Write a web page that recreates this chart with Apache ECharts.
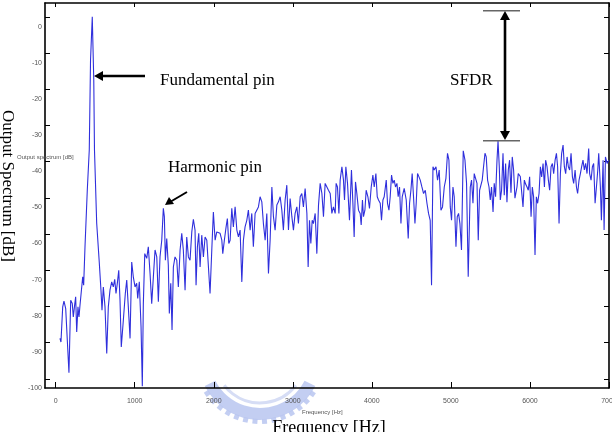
<!DOCTYPE html>
<html>
<head>
<meta charset="utf-8">
<script src="https://cdn.jsdelivr.net/npm/echarts@6/dist/echarts.min.js"></script>
<style>
  html, body { margin: 0; padding: 0; background: #fff; }
  #container { width: 612px; height: 432px; }
</style>
</head>
<body>
<div id="container"></div>
<script>
// frequency (Hz) and output spectrum (dB)
var freq = [54,67,89,105,127,147,168,190,210,223,241,253,266,282,295,308,320,342,354,371,400,425,441,463,482,491,
  519,552,573,586,603,624,646,666,687,709,729,747,763,780,798,814,830,856,881,899,919,941,962,982,1004,1025,1038,1058,1080,1096,
  1109,1127,1152,1172,1194,1215,1236,1257,1279,1299,1320,1342,1362,1375,1388,1405,1425,1438,1456,1472,1489,1510,1532,1552,1574,1595,
  1615,1637,1658,1679,1700,1722,1742,1763,1776,1793,1810,1827,1848,1869,1890,1912,1932,1953,1975,1995,2017,2038,2058,2080,2102,2114,
  2134,2156,2172,2190,2207,2228,2248,2270,2292,2312,2333,2355,2375,2396,2418,2438,2460,2481,2501,2523,2545,2565,2586,2608,2628,2650,
  2671,2692,2713,2735,2755,2776,2798,2818,2840,2861,2881,2903,2924,2945,2966,2988,3008,3029,3051,3071,3093,3114,3134,3156,3178,3194,
  3211,3228,3245,3261,3283,3304,3325,3346,3368,3388,3409,3431,3451,3473,3494,3514,3536,3548,3565,3583,3599,3621,3641,3654,3671,3692,
  3717,3742,3760,3776,3793,3810,3831,3852,3865,3881,3894,3912,3928,3950,3970,3992,4013,4030,4051,4068,4084,4106,4122,4140,4156,4182,
  4198,4216,4232,4249,4266,4283,4299,4317,4333,4350,4368,4384,4409,4435,4460,4477,4494,4510,4527,4545,4561,4578,4596,4612,4633,4654,
  4676,4697,4717,4738,4755,4773,4789,4811,4831,4852,4874,4894,4916,4937,4957,4975,4992,5008,5026,5042,5064,5080,5097,5114,5134,5156,
  5178,5198,5219,5245,5261,5279,5295,5312,5330,5346,5363,5381,5396,5413,5431,5447,5464,5482,5498,5514,5533,5548,5565,5583,5596,5612,
  5625,5641,5659,5675,5692,5709,5726,5742,5760,5776,5793,5810,5836,5852,5878,5899,5912,5929,5945,5963,5979,5996,6014,6030,6046,6064,
  6081,6097,6115,6132,6148,6166,6183,6198,6216,6233,6249,6267,6284,6300,6318,6335,6350,6368,6385,6401,6419,6435,6452,6470,6486,6502,
  6520,6537,6553,6571,6588,6603,6621,6638,6654,6671,6688,6705,6722,6743,6755,6773,6790,6806,6824,6841,6858,6870,6891,6904,6925,6938,
  6955,6976,6997];
var level = [-88.8,-89.8,-80.1,-78.5,-80.6,-80.6,-98.3,-78.3,-79.2,-82.9,-79.4,-77.3,-87.0,-80.1,-82.9,-79.6,-79.2,-71.8,-74.1,-63.5,-47.9,-36.8,-12.0,0,-17.5,-36.8,
  -57.0,-68.0,-75.5,-81.0,-74.6,-80.1,-93.0,-80.1,-75.5,-73.2,-74.6,-72.5,-76.4,-73.6,-70.0,-78.3,-91.2,-83.8,-76.4,-72.7,-80.1,-88.8,-67.7,-71.8,-74.6,-73.6,-77.8,-73.2,-85.6,-102,
  -79.2,-65.4,-66.7,-63.5,-70.9,-79.2,-71.8,-64.4,-66.3,-78.7,-66.3,-61.7,-52.9,-55.2,-67.2,-61.2,-68.6,-81.9,-73.6,-86.5,-69.1,-66.3,-67.2,-74.6,-64.4,-59.8,
  -64.4,-75.5,-60.8,-66.3,-67.2,-59.4,-55.9,-58.9,-74.1,-63.5,-59.8,-69.1,-60.3,-66.3,-60.8,-61.7,-61.2,-76.4,-64.4,-53.9,-61.7,-59.4,-59.8,-59.8,-61.7,-65.4,
  -61.7,-58.0,-55.7,-62.6,-61.7,-52.9,-58.0,-52.5,-58.9,-60.8,-58.9,-73.2,-61.7,-58.0,-56.2,-53.4,-58.9,-54.3,-63.5,-54.3,-54.3,-52.5,-49.7,-51.1,-57.1,-61.7,
  -54.3,-70.9,-61.7,-47.0,-55.2,-58.9,-52.0,-51.1,-49.7,-53.4,-58.9,-50.6,-46.5,-58.9,-50.2,-55.2,-58.9,-54.3,-52.5,-57.1,-49.7,-48.8,-52.5,-47.4,-54.3,-69.1,
  -56.2,-62.6,-56.2,-57.1,-54.3,-65.4,-52.0,-46.0,-48.8,-55.2,-46.0,-47.0,-47.9,-48.8,-54.3,-52.5,-54.3,-46.0,-47.0,-54.3,-45.1,-41.4,-45.1,-50.6,-41.4,-46.0,
  -56.2,-42.3,-51.5,-60.8,-45.6,-48.8,-53.4,-54.3,-57.5,-50.6,-55.2,-53.4,-47.9,-49.7,-52.9,-47.0,-43.7,-47.0,-43.3,-49.7,-50.6,-51.5,-56.2,-50.6,-49.7,-45.1,
  -51.5,-53.4,-49.7,-43.7,-46.0,-45.1,-47.0,-46.0,-49.7,-47.0,-57.1,-49.7,-47.4,-50.6,-61.2,-51.5,-47.9,-43.3,-49.7,-57.1,-51.5,-43.3,-44.2,-45.1,-47.0,-48.8,
  -47.9,-51.5,-54.3,-56.2,-74.1,-41.4,-42.3,-41.4,-45.1,-42.3,-53.4,-52.5,-47.0,-44.6,-37.7,-39.6,-52.5,-56.2,-47.0,-49.7,-63.5,-55.2,-54.3,-57.1,-64.4,-37.0,
  -39.6,-46.0,-71.8,-47.0,-45.1,-51.5,-43.3,-42.8,-46.0,-61.7,-47.9,-47.4,-45.1,-41.4,-37.7,-38.7,-45.1,-47.0,-50.6,-47.0,-53.9,-46.0,-49.7,-39.6,-34.3,-41.4,
  -50.6,-47.9,-37.7,-49.3,-40.5,-51.2,-42.3,-39.6,-48.6,-38.7,-42.3,-50.1,-47.0,-43.3,-44.1,-43.7,-52.5,-45.1,-46.2,-47.0,-47.9,-44.2,-55.2,-47.0,-49.7,-65.8,
  -49.7,-51.5,-48.8,-41.4,-44.2,-40.5,-47.0,-39.6,-41.4,-45.1,-47.9,-41.4,-40.5,-43.3,-39.6,-37.7,-41.4,-57.1,-43.3,-37.7,-35.4,-41.4,-43.3,-38.7,-41.4,-42.3,
  -37.7,-44.2,-46.0,-42.3,-47.0,-48.8,-45.1,-43.3,-41.4,-39.6,-42.3,-40.5,-43.3,-36.4,-43.3,-45.1,-41.4,-40.5,-51.5,-47.0,-42.3,-37.7,-47.0,-56.2,-39.6,-58.9,
  -38.7,-40.5,-39.6];

var xTicks = [0, 1000, 2000, 3000, 4000, 5000, 6000, 7000];
var yTicks = [-100, -90, -80, -70, -60, -50, -40, -30, -20, -10, 0];

var dom = document.getElementById('container');
var myChart = echarts.init(dom, null, { renderer: 'canvas' });

var seriesData = freq.map(function (f, i) { return [f, level[i]]; });

var tickFont = {
  fontSize: 7, color: '#555', fontFamily: 'Liberation Sans',
  formatter: function (v) { return String(v); }
};
var serif = 'Liberation Serif';

function frameAxis(extra) {
  var base = {
    type: 'value',
    axisLine: { show: true, onZero: false, lineStyle: { color: '#000', width: 1.6 } },
    axisTick: { show: true, inside: true, length: 5, lineStyle: { color: '#000', width: 1 } },
    axisLabel: { show: false },
    splitLine: { show: false }
  };
  return Object.assign(base, extra);
}

// watermark gear (decoration), only the part below the frame shows
var wmColor = '#b9c6f0';
var wmY = 358;
var gear = [];
gear.push({
  type: 'sector', shape: { cx: 260, cy: wmY, r: 62, r0: 50, startAngle: 0.47, endAngle: Math.PI - 0.47 },
  style: { fill: wmColor, opacity: 0.85 }, z: -10
});
for (var a = 0.6; a < Math.PI - 0.55; a += 0.15) {
  gear.push({
    type: 'rect', x: 260 + 63 * Math.cos(a), y: wmY + 63 * Math.sin(a),
    rotation: -(a - Math.PI / 2), originX: 0, originY: 0,
    shape: { x: -2.5, y: -2, width: 5, height: 5 },
    style: { fill: wmColor, opacity: 0.85 }, z: -10
  });
}
gear.push({
  type: 'arc', shape: { cx: 260, cy: wmY, r: 45, startAngle: 0.65, endAngle: Math.PI - 0.65 },
  style: { stroke: '#d6ddf5', lineWidth: 3, fill: null }, z: -10
});

var option = {
  animation: false,
  grid: { left: 45, right: 3, top: 3, bottom: 44, containLabel: false, outerBoundsMode: 'none' },
  xAxis: [
    frameAxis({
      position: 'bottom', min: -135, max: 7000,
      axisTick: { show: true, inside: true, length: 6, customValues: xTicks, lineStyle: { color: '#000', width: 1 } },
      axisLabel: Object.assign({ show: true, margin: 10, customValues: xTicks }, tickFont)
    }),
    frameAxis({
      position: 'top', min: -135, max: 7000,
      axisTick: { show: true, inside: true, length: 4, customValues: xTicks, lineStyle: { color: '#000', width: 1 } }
    })
  ],
  yAxis: [
    frameAxis({
      position: 'left', min: -102.5, max: 3.8,
      axisTick: { show: true, inside: true, length: 5, customValues: yTicks, lineStyle: { color: '#000', width: 1 } }
    }),
    frameAxis({
      position: 'right', min: -102.5, max: 3.8,
      axisTick: { show: true, inside: true, length: 5, customValues: yTicks, lineStyle: { color: '#000', width: 1 } }
    }),
    {
      type: 'value', position: 'left', min: -100, max: 6.56,
      axisLine: { show: false }, axisTick: { show: false }, splitLine: { show: false },
      axisLabel: Object.assign({ show: true, margin: 3, customValues: yTicks }, tickFont)
    }
  ],
  series: [
    {
      name: 'Output spectrum',
      type: 'line',
      xAxisIndex: 0,
      yAxisIndex: 0,
      data: seriesData,
      showSymbol: false,
      clip: true,
      lineStyle: { color: '#2f2fdc', width: 1.1 },
      z: 3
    }
  ],
  graphic: gear.concat([
    // small axis names of the embedded plot
    { type: 'text', x: 17, y: 157, style: { text: 'Output spectrum [dB]', fontSize: 6, fill: '#555', fontFamily: 'Liberation Sans', textVerticalAlign: 'middle' }, z: 5 },
    { type: 'text', x: 302, y: 412, style: { text: 'Frequency [Hz]', fontSize: 6, fill: '#555', fontFamily: 'Liberation Sans', textVerticalAlign: 'middle' }, z: 5 },
    // big axis titles
    { type: 'text', x: 7, y: 186, rotation: -Math.PI / 2, style: { text: 'Output Spectrum [dB]', fontSize: 17, fill: '#000', fontFamily: serif, textAlign: 'center', textVerticalAlign: 'middle' }, z: 5 },
    { type: 'text', x: 329, y: 428, style: { text: 'Frequency [Hz]', fontSize: 18, fill: '#000', fontFamily: serif, textAlign: 'center', textVerticalAlign: 'middle' }, z: 5 },
    // annotations
    { type: 'text', x: 160, y: 81, style: { text: 'Fundamental pin', fontSize: 17, fill: '#000', fontFamily: serif, textVerticalAlign: 'middle' }, z: 5 },
    { type: 'line', shape: { x1: 145, y1: 76, x2: 100, y2: 76 }, style: { stroke: '#000', lineWidth: 2.6 }, z: 5 },
    { type: 'polygon', shape: { points: [[94, 76], [103, 71], [103, 81]] }, style: { fill: '#000' }, z: 5 },
    { type: 'text', x: 168, y: 168, style: { text: 'Harmonic pin', fontSize: 17, fill: '#000', fontFamily: serif, textVerticalAlign: 'middle' }, z: 5 },
    { type: 'line', shape: { x1: 187, y1: 192, x2: 170, y2: 202 }, style: { stroke: '#000', lineWidth: 2 }, z: 5 },
    { type: 'polygon', shape: { points: [[165, 205], [169, 197], [174, 204]] }, style: { fill: '#000' }, z: 5 },
    { type: 'text', x: 450, y: 81, style: { text: 'SFDR', fontSize: 17, fill: '#000', fontFamily: serif, textVerticalAlign: 'middle' }, z: 5 },
    { type: 'line', shape: { x1: 483, y1: 10.7, x2: 520, y2: 10.7 }, style: { stroke: '#666', lineWidth: 1.5 }, z: 5 },
    { type: 'line', shape: { x1: 483, y1: 140.7, x2: 520, y2: 140.7 }, style: { stroke: '#666', lineWidth: 1.5 }, z: 5 },
    { type: 'line', shape: { x1: 505, y1: 19, x2: 505, y2: 132 }, style: { stroke: '#000', lineWidth: 2.6 }, z: 5 },
    { type: 'polygon', shape: { points: [[505, 11], [500, 20], [510, 20]] }, style: { fill: '#000' }, z: 5 },
    { type: 'polygon', shape: { points: [[505, 140], [500, 131], [510, 131]] }, style: { fill: '#000' }, z: 5 }
  ])
};

myChart.setOption(option);
window.addEventListener('resize', myChart.resize);
</script>
</body>
</html>
